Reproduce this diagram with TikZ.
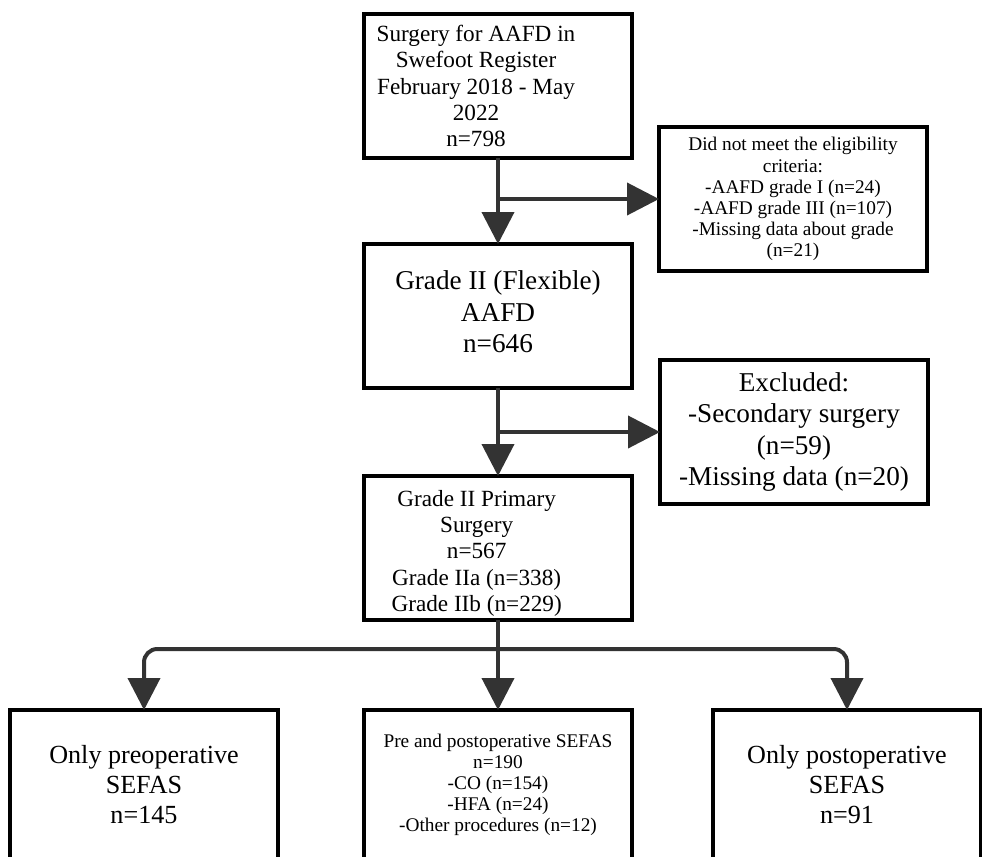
\documentclass[tikz,border=0pt]{standalone}
\usepackage{fontspec}
\setmainfont{Liberation Serif}
\usetikzlibrary{arrows.meta}
\definecolor{linegray}{HTML}{333333}

\begin{document}
\begin{tikzpicture}[x=0.75pt,y=-0.75pt,inner sep=0pt,outer sep=0pt,
flowbox/.style={draw,rectangle,line width=3pt,minimum width=201pt,minimum height=108pt,align=center},
lowbox/.style={flowbox,minimum height=112.5pt},
smalltxt/.style={font=\fontsize{14.5}{15.8}\selectfont,align=center},
midtxt/.style={font=\fontsize{17.4}{19.8}\selectfont,align=center},
bigtxt/.style={font=\fontsize{20.4}{23.6}\selectfont,align=center},
lowtxt/.style={font=\fontsize{19.6}{22.5}\selectfont,align=center},
conn/.style={linegray,line width=3pt,-{Triangle[length=24pt,width=24pt]}}]

\useasboundingbox (0,0) rectangle (982,857);
\clip (0,0) rectangle (982,857);

\draw (498,86) node[flowbox] (reg) {};
\draw ([xshift=-16.5pt]reg.center) node[midtxt] (regtext) {Surgery for AAFD in\\Swefoot Register\\February 2018 - May\\2022\\n=798};
\draw (793,199) node[flowbox,smalltxt] (notelig) {Did not meet the eligibility\\criteria:\\-AAFD grade I (n=24)\\-AAFD grade III (n=107)\\-Missing data about grade\\(n=21)};
\draw (498,316) node[flowbox] (flex) {};
\draw ([yshift=3pt]flex.center) node[bigtxt] (flextext) {Grade II (Flexible)\\AAFD\\n=646};
\draw (794,432) node[flowbox,bigtxt] (excl) {Excluded:\\-Secondary surgery\\(n=59)\\-Missing data (n=20)};
\draw (498,548) node[flowbox] (prim) {};
\draw ([xshift=-16pt,yshift=-4pt]prim.center) node[midtxt] (primtext) {Grade II Primary\\Surgery\\n=567\\Grade IIa (n=338)\\Grade IIb (n=229)};
\draw (144,785) node[lowbox,lowtxt] (preop) {Only preoperative\\SEFAS\\n=145};
\draw (498,785) node[lowbox,smalltxt] (both) {Pre and postoperative SEFAS\\n=190\\-CO (n=154)\\-HFA (n=24)\\-Other procedures (n=12)};
\draw (847,785) node[lowbox,lowtxt] (postop) {Only postoperative\\SEFAS\\n=91};
\coordinate (split) at (498,649);

\draw[conn] (reg.south) -- (flex.north);
\draw[conn] (reg.south |- notelig.west) -- (notelig.west);
\draw[conn] (flex.south) -- (prim.north);
\draw[conn] (flex.south |- excl.west) -- (excl.west);
\draw[conn] (prim.south) -- (both.north);
\draw[conn,rounded corners=10pt] (split) -| (preop.north);
\draw[conn,rounded corners=10pt] (split) -| (postop.north);

\end{tikzpicture}
\end{document}
